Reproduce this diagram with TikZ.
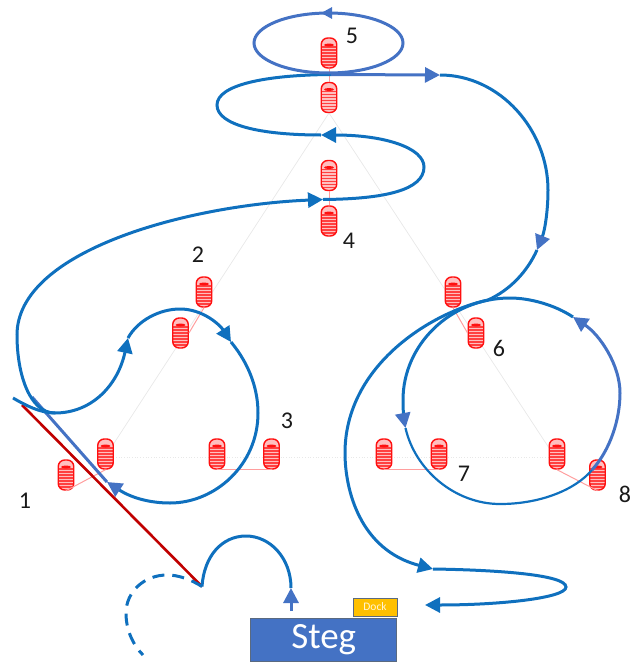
\documentclass[tikz,border=0pt]{standalone}
\usepackage{fontspec}
\setmainfont{Carlito}
\usetikzlibrary{arrows.meta}
\definecolor{routeblue}{HTML}{0F70BE}
\definecolor{indigo}{HTML}{4472C4}
\definecolor{darkred}{HTML}{C00000}
\definecolor{buoyred}{HTML}{FF1010}
\definecolor{boxedge}{HTML}{5A6A80}
\definecolor{dockfill}{HTML}{FFC000}
\tikzset{
  buoy/.style={draw=buoyred,line width=1.4pt,fill=red!25,rounded corners=6.5pt,minimum width=15.5pt,minimum height=30pt,inner sep=0pt,
    path picture={
      \foreach \dy in {-12,-9,...,6}{\draw[buoyred!80,line width=1.6pt] ([xshift=-9pt,yshift=\dy pt]path picture bounding box.center) -- ++(18pt,0);}
      \fill[buoyred] ([yshift=8pt]path picture bounding box.center) ellipse (5pt and 1.5pt);
    }},
  route/.style={draw=routeblue,line width=3pt},
  routei/.style={draw=indigo,line width=3pt},
  tip/.style={-{Triangle[length=15pt,width=15pt,fill=#1,color=#1]}},
  pair/.style={draw=red!38,line width=1pt},
  guide/.style={draw=black!9,line width=.7pt},
  numlabel/.style={font=\fontsize{24}{24}\selectfont,text=black!90,inner sep=0pt},
}
\begin{document}
\begin{tikzpicture}[x=1pt,y=-1pt]
\useasboundingbox (0,0) rectangle (633,664);
\coordinate (gL) at (105,457);
\coordinate (gR) at (557,457);
\coordinate (gA) at (329,113);
\coordinate (gRd) at (553,454);
\draw[guide] (gA) -- (gL);
\draw[guide] (gA) -- (gRd);
\draw[guide,dotted] (gL) -- (gR);

\node[buoy] (oA) at (66,475) {};
\node[buoy] (oB) at (105.5,454) {};
\node[buoy] (tA) at (204,292) {};
\node[buoy] (tB) at (180.5,333) {};
\node[buoy] (hA) at (217,454) {};
\node[buoy] (hB) at (271.5,454) {};
\node[buoy] (fA) at (329,175.5) {};
\node[buoy] (fB) at (329,221) {};
\node[buoy] (vA) at (329,53) {};
\node[buoy] (vB) at (329,97.5) {};
\node[buoy] (sA) at (453,292) {};
\node[buoy] (sB) at (476,333) {};
\node[buoy] (mA) at (384,454) {};
\node[buoy] (mB) at (439,454) {};
\node[buoy] (eA) at (557,454) {};
\node[buoy] (eB) at (597.5,475) {};

\draw[pair] (oA.south) -- (oB.south);
\draw[pair] (tA.south) -- (tB.east);
\draw[pair] (hA.south) -- (hB.south);
\draw[pair] (fA.south) -- (fB.north);
\draw[pair] (vA.south) -- (vB.north);
\draw[pair] (sA.south) -- (sB.west);
\draw[pair] (mA.south) -- (mB.south);
\draw[pair] (eA.south) -- (eB.south);

\node[numlabel] (n1) at (25,501) {1};
\node[numlabel] (n2) at (198,255) {2};
\node[numlabel] (n3) at (287,421) {3};
\node[numlabel] (n4) at (349,241) {4};
\node[numlabel] (n5) at (352,36) {5};
\node[numlabel] (n6) at (499,348) {6};
\node[numlabel] (n7) at (464,474) {7};
\node[numlabel] (n8) at (625,494) {8};

\node[draw=boxedge,line width=.9pt,fill=indigo,text=white,minimum width=146pt,minimum height=43.5pt,inner sep=0pt,font=\fontsize{37}{37}\selectfont] (steg) at (323.7,640) {\raisebox{-3pt}{Steg}};
\node[draw=boxedge,line width=.9pt,fill=dockfill,text=white!85!dockfill,minimum width=44pt,minimum height=18pt,inner sep=0pt,font=\fontsize{11.5}{12}\selectfont] (dock) at (375,607) {Dock};

\coordinate (pTail) at (13,398);
\coordinate (pLine) at (32,397);
\coordinate (pLow) at (55,413);
\coordinate (pA1) at (128,338);
\coordinate (pTop2) at (180,309);
\coordinate (pA2) at (231,342);
\coordinate (pA3) at (107,482);
\coordinate (pA4) at (323,199.5);
\coordinate (pA5) at (321,135);
\coordinate (pJoin) at (331,74.5);
\coordinate (pA6) at (440,75);
\coordinate (pA7) at (537,250);
\coordinate (pA8) at (433,569);
\coordinate (pA9) at (425,605);
\coordinate (pA10) at (573,317);
\coordinate (pA11) at (405.5,428);
\coordinate (pIn) at (592,470);
\coordinate (pUp) at (291,588);
\coordinate (pFoot) at (291,611);
\coordinate (pTurn) at (202,586.5);
\coordinate (pRedTop) at (22,405);
\coordinate (pDashEnd) at (143,655);

\draw[darkred,line width=2.6pt] (pRedTop) -- (pTurn);
\draw[routei] (pLine) -- (pA3);

\draw[route,tip=routeblue] (pLow) .. controls (30,413) and (17,375) .. (17,335) .. controls (17,250) and (190,205) .. (pA4);
\draw[route,tip=routeblue] (pTail) .. controls (25,405) and (40,413) .. (pLow) .. controls (92,413) and (118,385) .. (pA1);
\draw[route,tip=routeblue] (pA1) .. controls (138,320) and (160,309) .. (pTop2) .. controls (203,309) and (220,325) .. (pA2);
\draw[route,tip=indigo] (pA2) .. controls (250,365) and (258,390) .. (258,413) .. controls (258,465) and (215,503) .. (170,503) .. controls (148,503) and (130,497) .. (pA3);

\draw[route,tip=routeblue] (pA4) .. controls (385,199) and (424,190) .. (424,167) .. controls (424,148) and (385,135) .. (pA5);
\draw[route] (pA5) .. controls (260,135) and (217,125) .. (217,105) .. controls (217,85) and (265,75) .. (pJoin);
\draw[routei] (328.5,43) ellipse (74.5 and 30);
\node[inner sep=0pt,minimum size=0pt] (topmark) at (330,13) {};
\draw[routei,-{Triangle[length=11pt,width=11pt,fill=indigo,color=indigo]}] (topmark.center) -- ++(-9,0);
\draw[routei,tip=indigo] (pJoin) -- (pA6);

\draw[route,tip=indigo] (pA6) .. controls (500,75) and (548,130) .. (548,190) .. controls (548,210) and (545,230) .. (pA7);
\draw[route,tip=routeblue] (pA7) .. controls (527,272) and (510,290) .. (488,300) .. controls (432,312) and (345,365) .. (345,453) .. controls (345,490) and (360,550) .. (pA8);
\draw[route,tip=routeblue] (pA8) .. controls (500,570) and (566,575) .. (566,587) .. controls (566,598) and (500,605) .. (pA9);
\draw[route,tip=indigo] (pA10) .. controls (555,305) and (530,298) .. (510,298) .. controls (450,298) and (403,345) .. (403,400) .. controls (403,410) and (404,420) .. (pA11);
\draw[route,line width=2.2pt] (pA11) .. controls (415,470) and (455,504) .. (500,504) .. controls (540,504) and (575,490) .. (pIn);
\draw[routei,tip=indigo] (pIn) .. controls (610,450) and (620,420) .. (620,393) .. controls (620,365) and (600,335) .. (pA10);

\draw[routei,tip=indigo] (pFoot) -- (pUp);
\draw[route] (pUp) .. controls (291,558) and (270,536) .. (246,536) .. controls (222,536) and (204,556) .. (pTurn);
\draw[route,dash pattern=on 12pt off 8pt] (pTurn) .. controls (190,579) and (178,575) .. (167,575) .. controls (144,575) and (126,592) .. (126,613) .. controls (126,630) and (133,645) .. (pDashEnd);
\end{tikzpicture}
\end{document}
